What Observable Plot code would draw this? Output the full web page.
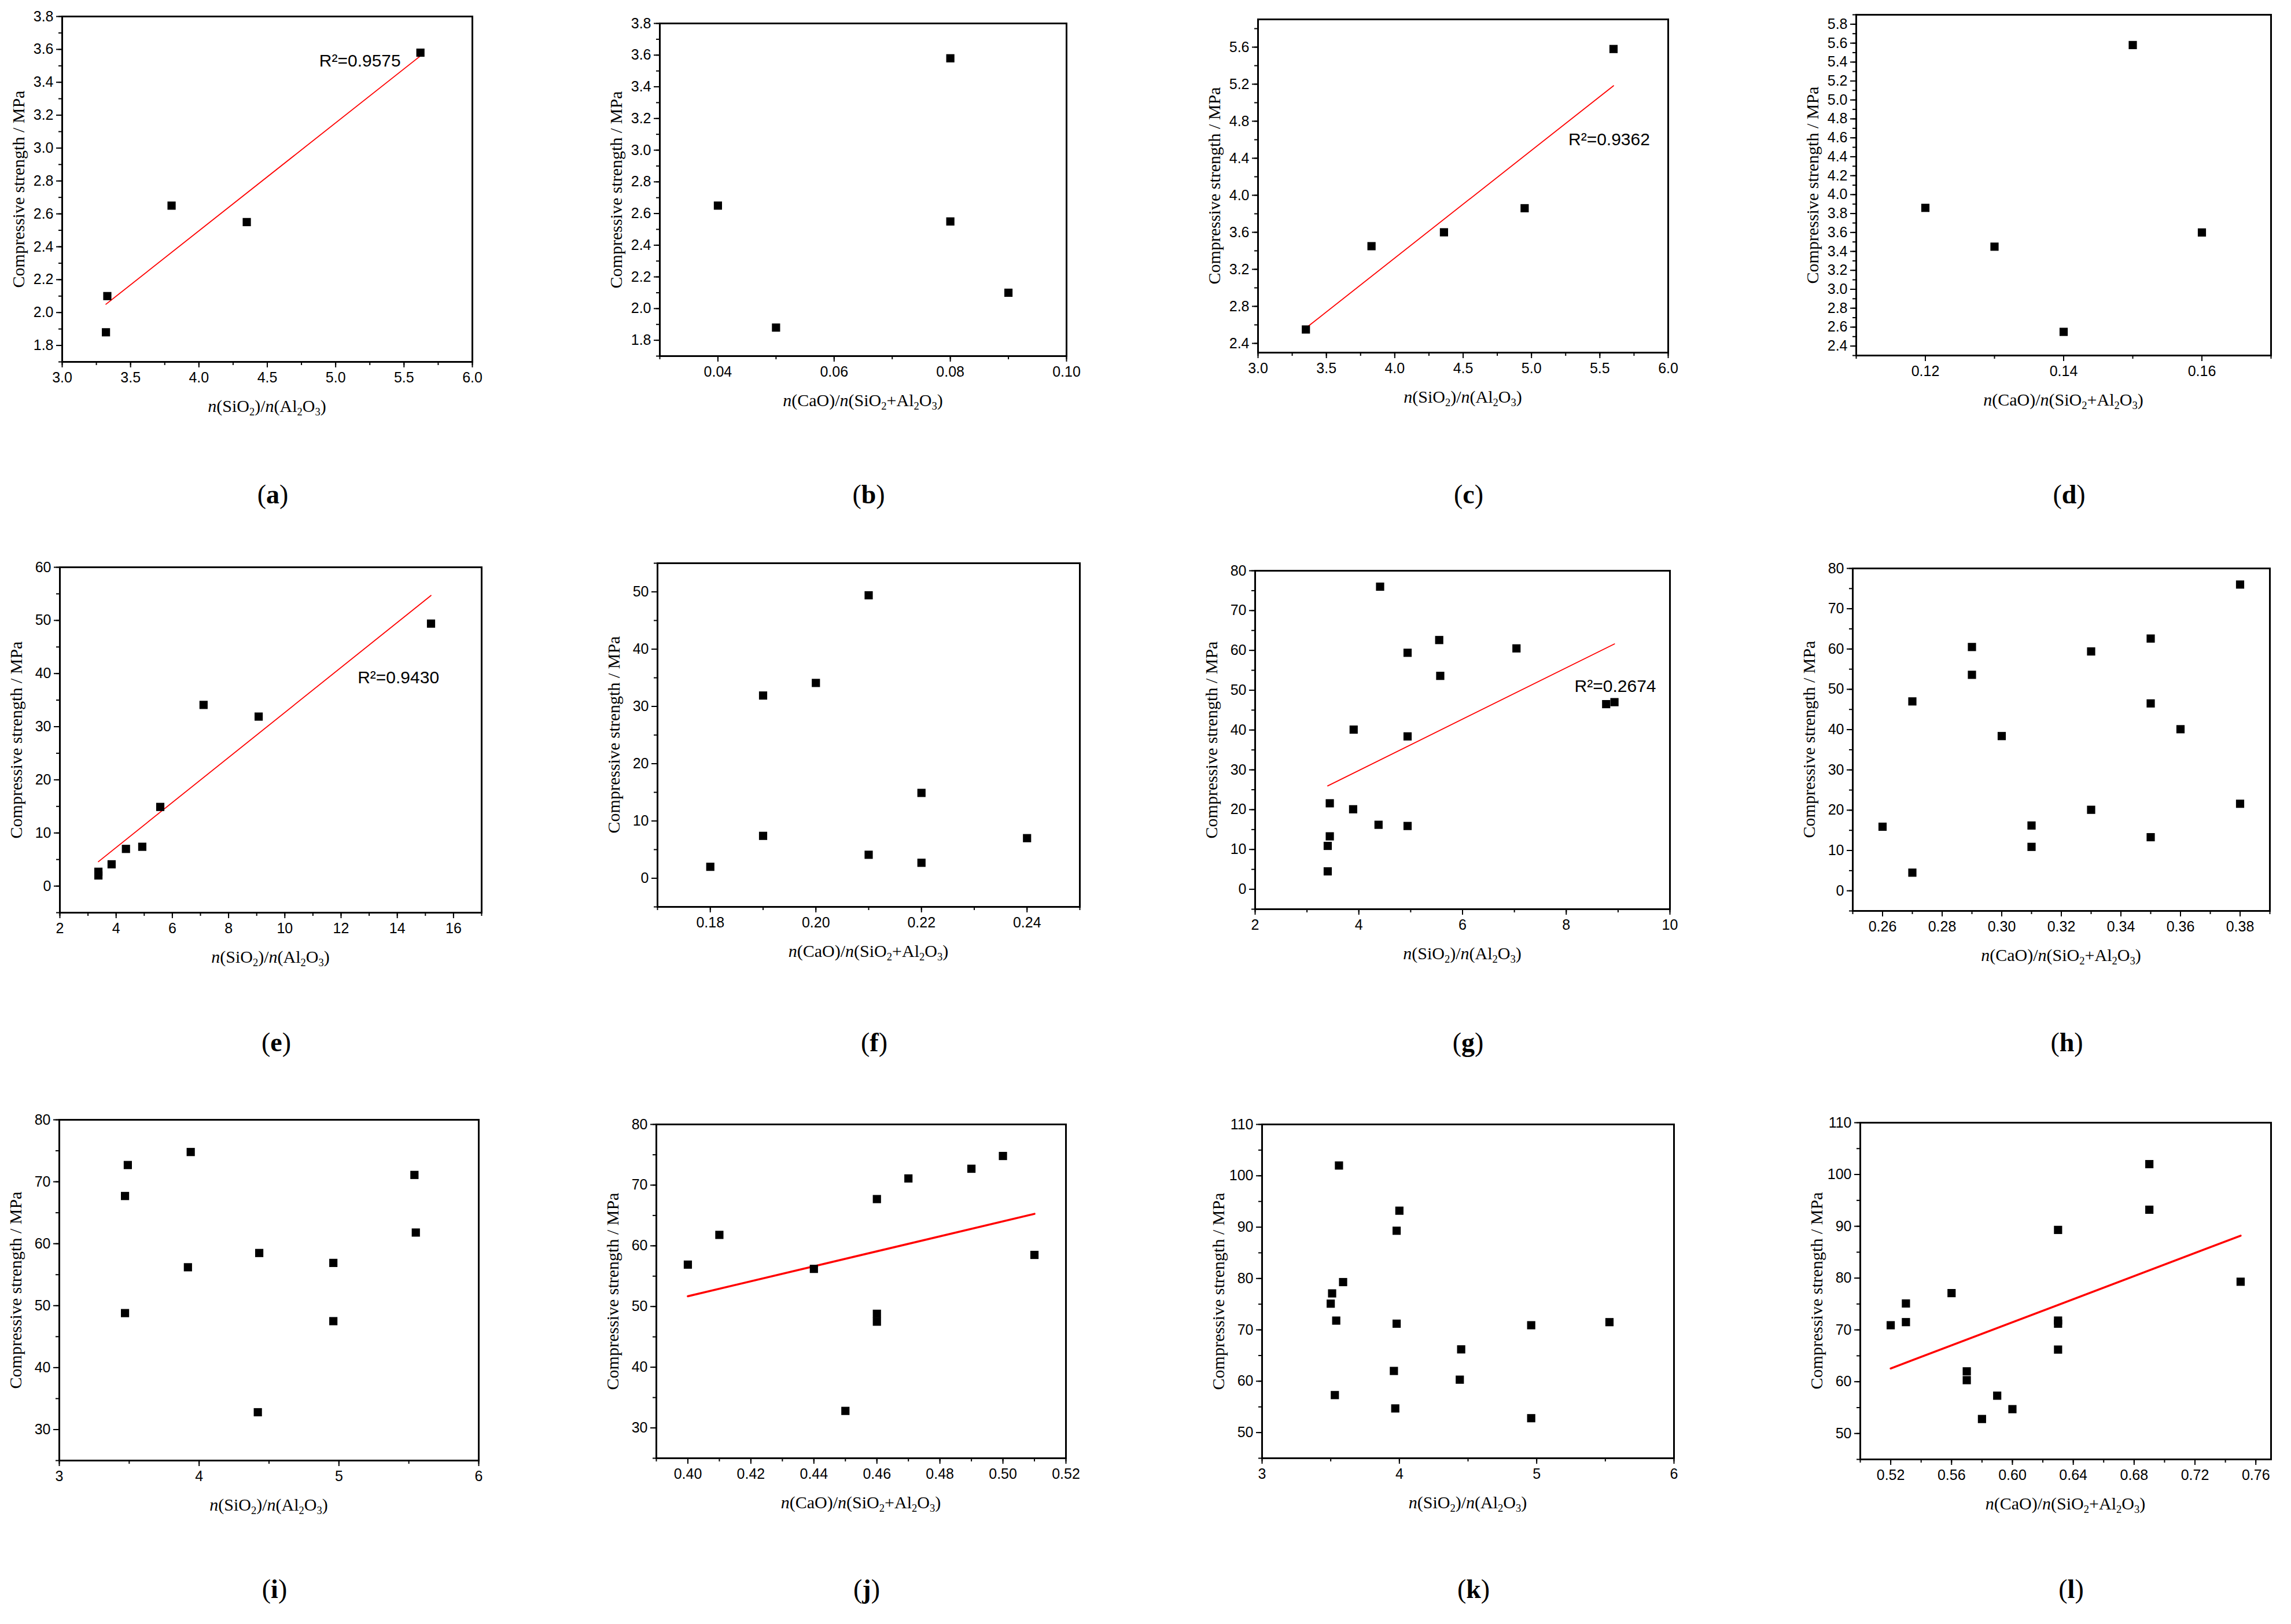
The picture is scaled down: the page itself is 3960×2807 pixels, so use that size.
<!DOCTYPE html>
<html>
<head>
<meta charset="utf-8">
<script src="https://cdn.jsdelivr.net/npm/d3@7"></script>
<script src="https://cdn.jsdelivr.net/npm/@observablehq/plot@0.6"></script>
<style>
  body { margin: 0; background: white; }
  #fig { position: relative; width: 3960px; height: 2807px; background: white; overflow: hidden; }
  .panel { position: absolute; }
  .xlab, .ylab, .tag { position: absolute; font-family: "Liberation Serif", serif; color: black; white-space: nowrap; }
  .xlab, .ylab { font-size: 30px; }
  .xlab { transform: translate(-50%, -50%); }
  .ylab { transform: translate(-50%, -50%) rotate(-90deg); }
  .tag { font-size: 46px; transform: translate(-50%, -50%); }
  sub { font-size: 0.62em; vertical-align: -0.32em; line-height: 0; }
</style>
</head>
<body>
<div id="fig"></div>
<script>
// group 1 -> panels a, b
const strength1 = [1.88, 2.10, 2.65, 2.55, 3.58]
const siAl1 = [3.32, 3.33, 3.80, 4.35, 5.62]
const caO1 = [0.05, 0.09, 0.04, 0.08, 0.08]

// group 2 -> panels c, d
const strength2 = [2.55, 3.45, 3.60, 3.86, 5.58]
const siAl2 = [3.35, 3.83, 4.36, 4.95, 5.60]
const caO2 = [0.14, 0.13, 0.16, 0.12, 0.15]

// group 3 -> panels e, f
const strength3 = [2.0, 2.7, 4.1, 7.0, 7.4, 14.9, 34.1, 31.9, 49.4]
const siAl3 = [3.37, 3.37, 3.84, 4.35, 4.93, 5.57, 7.11, 9.07, 15.2]
const caO3 = [0.18, 0.22, 0.21, 0.24, 0.19, 0.22, 0.20, 0.19, 0.21]

// group 4 -> panels g, h
const strength4 = [76.0, 62.6, 60.5, 59.4, 53.6, 47.0, 46.5, 40.1, 38.4, 21.6, 20.1, 16.2, 15.9, 13.3, 10.9, 4.5]
const siAl4 = [4.41, 5.55, 7.04, 4.94, 5.57, 8.93, 8.77, 3.90, 4.94, 3.44, 3.89, 4.38, 4.94, 3.44, 3.40, 3.40]
const caO4 = [0.38, 0.35, 0.29, 0.33, 0.29, 0.27, 0.35, 0.36, 0.30, 0.38, 0.33, 0.31, 0.26, 0.35, 0.31, 0.27]

// group 5 -> panels i, j
const strength5 = [74.8, 72.7, 71.1, 67.7, 61.8, 58.5, 56.9, 56.2, 48.8, 47.5, 32.8]
const siAl5 = [3.94, 3.49, 5.54, 3.47, 5.55, 4.43, 4.96, 3.92, 3.47, 4.96, 4.42]
const caO5 = [0.50, 0.49, 0.47, 0.46, 0.41, 0.51, 0.40, 0.44, 0.46, 0.46, 0.45]

// group 6 -> panels k, l
const strength6 = [102.0, 93.2, 89.3, 79.3, 77.1, 75.1, 71.8, 71.2, 70.9, 71.5, 66.2, 62.0, 60.3, 57.3, 54.7, 52.8]
const siAl6 = [3.56, 4.00, 3.98, 3.59, 3.51, 3.50, 3.54, 3.98, 4.96, 5.53, 4.45, 3.96, 4.44, 3.53, 3.97, 4.96]
const caO6 = [0.69, 0.69, 0.63, 0.75, 0.56, 0.53, 0.63, 0.63, 0.52, 0.53, 0.63, 0.57, 0.57, 0.59, 0.60, 0.58]

const r2Labels = {a: "R²=0.9575", c: "R²=0.9362", e: "R²=0.9430", g: "R²=0.2674"}

const yTitle = "Compressive strength / MPa"
const xTitleSi = "<i>n</i>(SiO<sub>2</sub>)/<i>n</i>(Al<sub>2</sub>O<sub>3</sub>)"
const xTitleCa = "<i>n</i>(CaO)/<i>n</i>(SiO<sub>2</sub>+Al<sub>2</sub>O<sub>3</sub>)"

// evenly spaced tick values without float drift
const steps = (a, b, s) => d3.range(Math.round((b - a) / s) + 1).map(i => +(a + i * s).toFixed(6))
const f1 = d3.format(".1f"), f2 = d3.format(".2f"), f0 = d3.format("d")

const yA = {dom: [1.7, 3.8], major: steps(1.8, 3.8, 0.2), minor: steps(1.7, 3.8, 0.1), fmt: f1}
const yC = {dom: [2.3, 5.9], major: steps(2.4, 5.6, 0.4), minor: steps(2.4, 5.8, 0.2), fmt: f1}
const yD = {dom: [2.3, 5.9], major: steps(2.4, 5.8, 0.2), minor: steps(2.3, 5.9, 0.1), fmt: f1}
const xSi3 = {dom: [3, 6], major: steps(3, 6, 0.5), minor: steps(3, 6, 0.25), fmt: f1}
const xSiInt = {dom: [3, 6], major: steps(3, 6, 1), minor: steps(3, 6, 0.5), fmt: f0}

const panels = [
  {id: "a", x: siAl1, y: strength1, xs: xSi3, ys: yA, xt: xTitleSi, fit: 1.8, r2At: [4.88, 3.53],
   box: [107, 28, 816, 625], row: 0},
  {id: "b", x: caO1, y: strength1, xt: xTitleCa, ys: yA,
   xs: {dom: [0.03, 0.10], major: steps(0.04, 0.10, 0.02), minor: steps(0.03, 0.10, 0.01), fmt: f2},
   box: [1140, 40, 1843, 615], row: 0},
  {id: "c", x: siAl2, y: strength2, xs: xSi3, ys: yC, xt: xTitleSi, fit: 1.8, r2At: [5.27, 4.6],
   box: [2174, 33, 2883, 609], row: 0},
  {id: "d", x: caO2, y: strength2, xt: xTitleCa, ys: yD,
   xs: {dom: [0.11, 0.17], major: steps(0.12, 0.16, 0.02), minor: steps(0.11, 0.17, 0.01), fmt: f2},
   box: [3208, 25, 3925, 614], row: 0},

  {id: "e", x: siAl3, y: strength3, xt: xTitleSi, fit: 1.8, r2At: [12.59, 39.2],
   xs: {dom: [2, 17], major: steps(2, 16, 2), minor: steps(2, 17, 1), fmt: f0},
   ys: {dom: [-5, 60], major: steps(0, 60, 10), minor: steps(-5, 60, 5), fmt: f0},
   box: [103, 980, 832, 1577], row: 1},
  {id: "f", x: caO3, y: strength3, xt: xTitleCa,
   xs: {dom: [0.17, 0.25], major: steps(0.18, 0.24, 0.02), minor: steps(0.17, 0.25, 0.01), fmt: f2},
   ys: {dom: [-5, 55], major: steps(0, 50, 10), minor: steps(-5, 55, 5), fmt: f0},
   box: [1136, 973, 1866, 1567], row: 1},
  {id: "g", x: siAl4, y: strength4, xt: xTitleSi, fit: 1.8, r2At: [8.16, 51.0],
   xs: {dom: [2, 10], major: steps(2, 10, 2), minor: steps(2, 10, 1), fmt: f0},
   ys: {dom: [-5, 80], major: steps(0, 80, 10), minor: steps(-5, 80, 5), fmt: f0},
   box: [2169, 986, 2886, 1571], row: 1},
  {id: "h", x: caO4, y: strength4, xt: xTitleCa,
   xs: {dom: [0.25, 0.39], major: steps(0.26, 0.38, 0.02), minor: steps(0.25, 0.39, 0.01), fmt: f2},
   ys: {dom: [-5, 80], major: steps(0, 80, 10), minor: steps(-5, 80, 5), fmt: f0},
   box: [3202, 982, 3923, 1574], row: 1},

  {id: "i", x: siAl5, y: strength5, xt: xTitleSi, xs: xSiInt,
   ys: {dom: [25, 80], major: steps(30, 80, 10), minor: steps(25, 80, 5), fmt: f0},
   box: [102, 1935, 827, 2524], row: 2},
  {id: "j", x: caO5, y: strength5, xt: xTitleCa, fit: 3.5,
   xs: {dom: [0.39, 0.52], major: steps(0.40, 0.52, 0.02), minor: steps(0.39, 0.52, 0.01), fmt: f2},
   ys: {dom: [25, 80], major: steps(30, 80, 10), minor: steps(25, 80, 5), fmt: f0},
   box: [1134, 1943, 1842, 2520], row: 2},
  {id: "k", x: siAl6, y: strength6, xt: xTitleSi, xs: xSiInt,
   ys: {dom: [45, 110], major: steps(50, 110, 10), minor: steps(45, 110, 5), fmt: f0},
   box: [2181, 1943, 2893, 2520], row: 2},
  {id: "l", x: caO6, y: strength6, xt: xTitleCa, fit: 3.5,
   xs: {dom: [0.50, 0.77], major: steps(0.52, 0.76, 0.04), minor: steps(0.50, 0.76, 0.02), fmt: f2},
   ys: {dom: [45, 110], major: steps(50, 110, 10), minor: steps(45, 110, 5), fmt: f0},
   box: [3215, 1940, 3925, 2522], row: 2},
]

const tagY = [854, 1801, 2746]
const fig = d3.select("#fig")

panels.forEach(p => {
  const [L, T, R, B] = p.box
  const mL = 110, mR = 20, mT = 20, mB = 70
  const data = p.x.map((v, i) => ({x: v, y: p.y[i]}))

  const marks = [
    Plot.axisX(p.xs.minor, {tickSize: 6, strokeWidth: 2, tickFormat: () => "", label: null}),
    Plot.axisX(p.xs.major, {tickSize: 10, strokeWidth: 2, tickPadding: 8, tickFormat: p.xs.fmt,
      fontSize: 25, label: null}),
    Plot.axisY(p.ys.minor, {tickSize: 6, strokeWidth: 2, tickFormat: () => "", label: null}),
    Plot.axisY(p.ys.major, {tickSize: 10, strokeWidth: 2, tickPadding: 5, tickFormat: p.ys.fmt,
      fontSize: 25, label: null}),
    Plot.frame({stroke: "black", strokeWidth: 3}),
  ]
  if (p.fit) {
    marks.push(Plot.linearRegressionY(data, {x: "x", y: "y", stroke: "#ff0000", strokeWidth: p.fit, ci: 0}))
  }
  marks.push(Plot.dot(data, {x: "x", y: "y", symbol: "square", r: 8, fill: "black", stroke: null}))
  if (r2Labels[p.id]) {
    marks.push(Plot.text([r2Labels[p.id]], {
      x: () => p.r2At[0], y: () => p.r2At[1], text: d => d,
      textAnchor: "start", fontSize: 30, fill: "black"
    }))
  }

  const chart = Plot.plot({
    width: R - L + mL + mR,
    height: B - T + mT + mB,
    marginLeft: mL, marginRight: mR, marginTop: mT, marginBottom: mB,
    x: {domain: p.xs.dom, label: null},
    y: {domain: p.ys.dom, label: null},
    style: {fontFamily: "Liberation Sans, Arial, sans-serif", fontSize: "25px", color: "black",
      background: "white", overflow: "visible"},
    marks
  })

  fig.append("div").attr("class", "panel")
    .style("left", (L - mL) + "px").style("top", (T - mT) + "px")
    .append(() => chart)

  fig.append("div").attr("class", "xlab")
    .style("left", (L + R) / 2 + "px").style("top", (B + 77) + "px")
    .html(p.xt)
  fig.append("div").attr("class", "ylab")
    .style("left", (L - 75) + "px").style("top", (T + B) / 2 + "px")
    .text(yTitle)
  fig.append("div").attr("class", "tag")
    .style("left", (L + R) / 2 + 10 + "px").style("top", tagY[p.row] + "px")
    .html("(<b>" + p.id + "</b>)")
})
</script>
</body>
</html>
